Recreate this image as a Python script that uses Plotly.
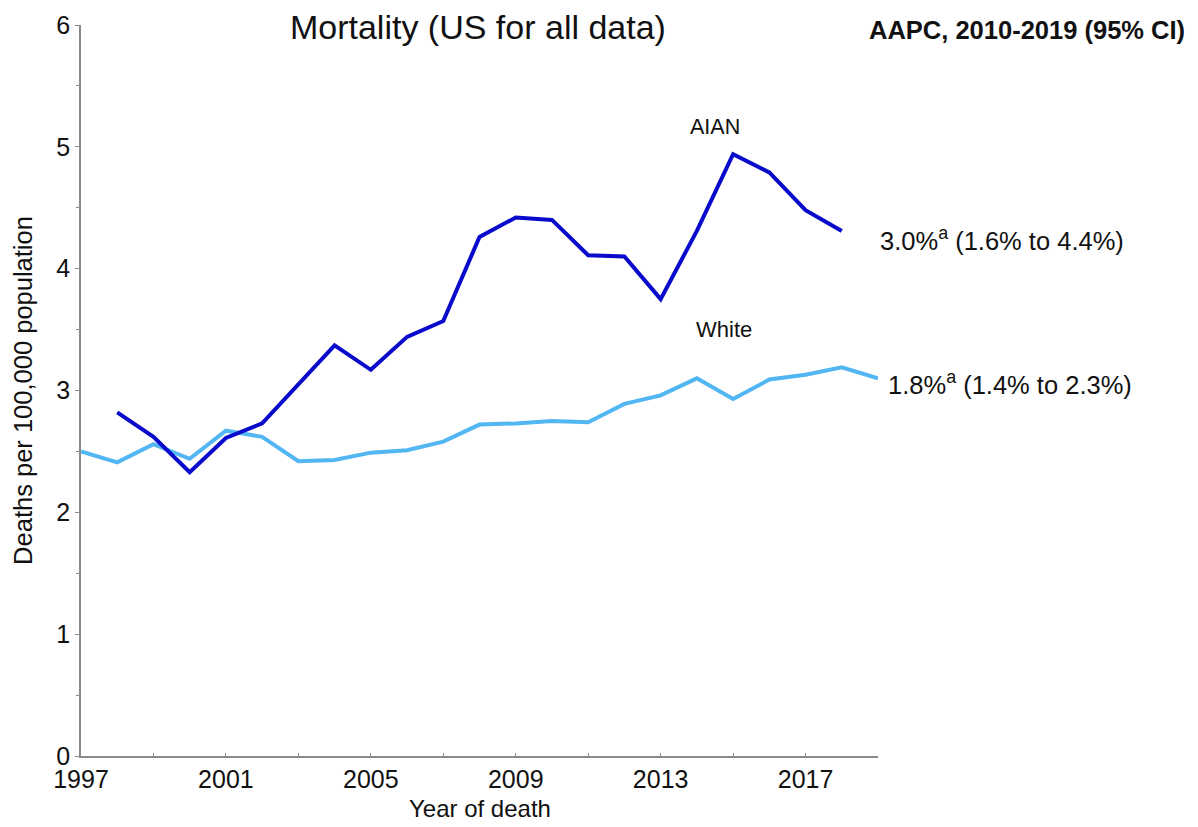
import plotly.graph_objects as go

years_aian = list(range(1998, 2019))
aian = [2.82, 2.62, 2.33, 2.61, 2.73, 3.05, 3.37, 3.17, 3.44, 3.57, 4.26, 4.42, 4.40,
        4.11, 4.10, 3.75, 4.31, 4.94, 4.79, 4.48, 4.31]
years_white = list(range(1997, 2020))
white = [2.50, 2.41, 2.56, 2.44, 2.67, 2.62, 2.42, 2.43, 2.49, 2.51, 2.58, 2.72, 2.73,
         2.75, 2.74, 2.89, 2.96, 3.10, 2.93, 3.09, 3.13, 3.19, 3.10]

x_ticks = [1997, 2001, 2005, 2009, 2013, 2017]
y_ticks = [0, 1, 2, 3, 4, 5, 6]

title = "Mortality (US for all data)"
x_title = "Year of death"
y_title = "Deaths per 100,000 population"
aapc_header = "AAPC, 2010-2019 (95% CI)"
aian_aapc = "3.0%<sup>a</sup> (1.6% to 4.4%)"
white_aapc = "1.8%<sup>a</sup> (1.4% to 2.3%)"

AIAN_COLOR = "#0a0acd"
WHITE_COLOR = "#52b6f2"
AXIS = "#8a8a8a"
TXT = "#111111"
FONT = "Liberation Sans, Arial, sans-serif"

fig = go.Figure()
fig.add_trace(go.Scatter(x=years_white, y=white, mode="lines", name="White",
                         line=dict(color=WHITE_COLOR, width=4), cliponaxis=False))
fig.add_trace(go.Scatter(x=years_aian, y=aian, mode="lines", name="AIAN",
                         line=dict(color=AIAN_COLOR, width=4), cliponaxis=False))

fig.update_layout(
    width=1182, height=811,
    margin=dict(l=73, r=312, t=17, b=63, autoexpand=False),
    paper_bgcolor="white", plot_bgcolor="white",
    showlegend=False,
    font=dict(family=FONT, color=TXT),
    title=dict(text=title, font=dict(size=34, color=TXT), x=0.3976, xanchor="center",
               y=1 - 19 / 811, yanchor="middle", xref="container", yref="container"),
    xaxis=dict(range=[1997, 2019], tickmode="array", tickvals=x_ticks,
               ticktext=[str(v) for v in x_ticks], automargin=False,
               showgrid=False, zeroline=False, showline=True, linecolor=AXIS,
               linewidth=1.5, ticks="inside", ticklen=3, tickcolor=AXIS,
               tickfont=dict(size=25, color=TXT),
               minor=dict(tickvals=[1999, 2003, 2007, 2011, 2015, 2019], ticks="inside",
                          ticklen=3, tickcolor=AXIS)),
    yaxis=dict(range=[0, 6], tickmode="array", tickvals=y_ticks, automargin=False,
               showgrid=False, zeroline=False, showline=True, linecolor=AXIS,
               linewidth=1.5, ticks="outside", ticklen=4, tickcolor=AXIS,
               tickfont=dict(size=25, color=TXT),
               minor=dict(dtick=0.5, ticks="outside", ticklen=3, tickcolor=AXIS),
               title=dict(text=y_title, font=dict(size=25.5, color=TXT), standoff=16)),
)

fig.add_annotation(x=0.5, y=0, xref="paper", yref="paper", text=x_title, showarrow=False,
                   xanchor="center", yanchor="middle", yshift=-52,
                   font=dict(size=24, color=TXT))
fig.add_annotation(x=2019, y=6, xref="x", yref="y", text="<b>" + aapc_header + "</b>",
                   showarrow=False, xanchor="left", yanchor="middle", xshift=-11, yshift=-5,
                   font=dict(size=25.5, color=TXT))
fig.add_annotation(x=years_aian[-1], y=aian[-1], xref="x", yref="y", text=aian_aapc,
                   showarrow=False, xanchor="left", yanchor="middle", xshift=36, yshift=-8,
                   font=dict(size=25.5, color=TXT))
fig.add_annotation(x=years_white[-1], y=white[-1], xref="x", yref="y", text=white_aapc,
                   showarrow=False, xanchor="left", yanchor="middle", xshift=8, yshift=-5,
                   font=dict(size=25.5, color=TXT))
fig.add_annotation(x=2014.5, y=5.16, xref="x", yref="y", text="AIAN", showarrow=False,
                   xanchor="center", yanchor="middle", font=dict(size=21.5, color=TXT))
fig.add_annotation(x=2014.75, y=3.5, xref="x", yref="y", text="White", showarrow=False,
                   xanchor="center", yanchor="middle", font=dict(size=22, color=TXT))

fig.write_html("out.html")
